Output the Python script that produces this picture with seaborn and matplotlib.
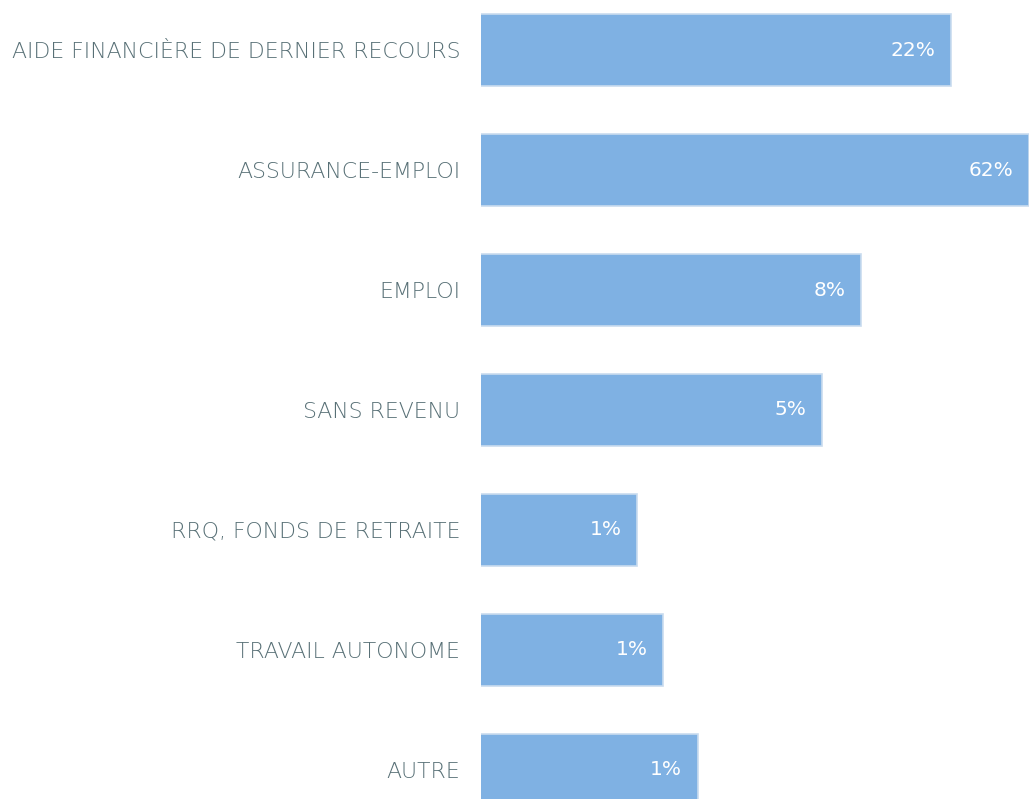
import matplotlib
matplotlib.use("Agg")
import matplotlib.pyplot as plt
import seaborn as sns
import pandas as pd

# Source of income categories and shares (%) - bar length read on a log scale
categories = [
    "AIDE FINANCIÈRE DE DERNIER RECOURS",
    "ASSURANCE-EMPLOI",
    "EMPLOI",
    "SANS REVENU",
    "RRQ, FONDS DE RETRAITE",
    "TRAVAIL AUTONOME",
    "AUTRE",
]
values = [24.0, 62.0, 8.0, 5.0, 0.53, 0.72, 1.1]
value_labels = ["22%", "62%", "8%", "5%", "1%", "1%", "1%"]

df = pd.DataFrame({"category": categories, "value": values})

sns.set_style("white")
plt.rcParams["font.family"] = ["DejaVu Sans"]

fig = plt.figure(figsize=(10.29, 7.99), dpi=100)
ax = fig.add_axes([481 / 1029, 0, 548 / 1029, 1])

sns.barplot(data=df, y="category", x="value", color="#7fb1e3", saturation=1,
            width=0.6, edgecolor="#c9dcef", linewidth=1.2, ax=ax, orient="h")

ax.set_xscale("log")
ax.set_xlim(0.079, 62)
ax.set_ylim(6.242, -0.417)

# value labels inside the bar ends
for i, (v, lab) in enumerate(zip(values, value_labels)):
    ax.annotate(lab, (v, i), xytext=(-11, 0), textcoords="offset points",
                ha="right", va="center", color="white", fontsize=14.5)

ax.set_xlabel("")
ax.set_ylabel("")
ax.set_xticks([])
ax.set_xticks([], minor=True)
ax.tick_params(axis="y", length=0, pad=15, labelsize=15.8)
for lbl in ax.get_yticklabels():
    lbl.set_color("#587076")
    lbl.set_fontweight("light")
sns.despine(left=True, bottom=True)

fig.savefig("out.png", dpi=100)
